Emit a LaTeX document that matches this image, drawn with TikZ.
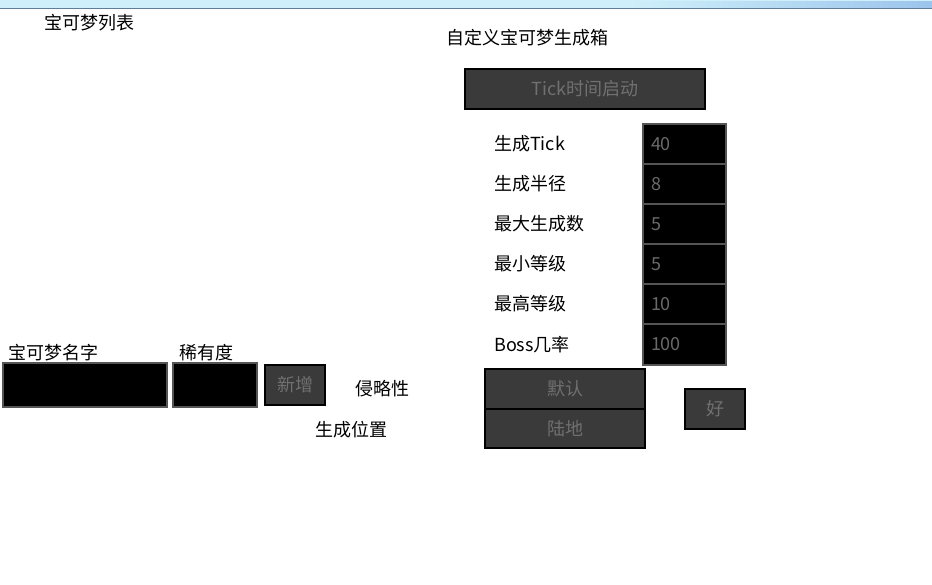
\documentclass[tikz,border=0pt]{standalone}
\usepackage{fontspec}
\setmainfont{Noto Sans CJK SC}
\usetikzlibrary{positioning}
\definecolor{btnfill}{HTML}{3A3A3A}
\definecolor{btntext}{HTML}{707070}
\definecolor{fieldedge}{HTML}{555555}
\definecolor{fieldtext}{HTML}{6A6A6A}
\definecolor{barblue}{HTML}{CFF0FA}
\definecolor{bardeep}{HTML}{9CC4EC}
\definecolor{barline}{HTML}{607C98}

\begin{document}
\begin{tikzpicture}[
    x=1pt, y=-1pt,                          % one unit = one pixel
    font=\fontsize{18}{18}\selectfont,
    caption/.style={anchor=west, inner sep=0pt},
    button/.style={draw=black, line width=2.5pt, fill=btnfill, text=btntext,
        inner sep=0pt, outer sep=0pt, anchor=north west},
    field/.style={draw=fieldedge, line width=2pt, fill=black, text=fieldtext,
        inner xsep=8pt, inner ysep=0pt, outer sep=0pt, align=left,
        anchor=north west}]
    \useasboundingbox (0,0) rectangle (932,584);

    % Window bar
    \fill[barblue] (0,0) rectangle (932,8);
    \shade[left color=barblue, right color=bardeep] (630,1) rectangle (932,8);
    \draw[barline, line width=1pt] (0,8.5) -- (932,8.5);

    % Titles
    \node[caption] (listT) at (44,23) {宝可梦列表};
    \node[caption] (boxT) at (446,38) {自定义宝可梦生成箱};

    % Tick button
    \node[button, minimum width=240pt, minimum height=40pt] (tickB) at (465,69) {Tick时间启动};

    % Value fields
    \node[field, text width=67pt, minimum height=40pt] (tickF) at (643,124) {40};
    \node[field, text width=67pt, minimum height=40pt, below=0pt of tickF] (radF) {8};
    \node[field, text width=67pt, minimum height=40pt, below=0pt of radF] (maxF) {5};
    \node[field, text width=67pt, minimum height=40pt, below=0pt of maxF] (minF) {5};
    \node[field, text width=67pt, minimum height=40pt, below=0pt of minF] (topF) {10};
    \node[field, text width=67pt, minimum height=41pt, below=0pt of topF] (bossF) {100};

    % Field labels
    \node[caption] (tickL) at (494,0 |- tickF) {生成Tick};
    \node[caption] (radL) at (494,0 |- radF) {生成半径};
    \node[caption] (maxL) at (494,0 |- maxF) {最大生成数};
    \node[caption] (minL) at (494,0 |- minF) {最小等级};
    \node[caption] (topL) at (494,0 |- topF) {最高等级};
    \node[caption] (bossL) at (494,0 |- bossF) {Boss几率};

    % Option buttons
    \node[button, minimum width=160pt, minimum height=40pt] (defB) at (485,369) {默认};
    \node[button, minimum width=160pt, minimum height=39pt, below=0pt of defB] (landB) {陆地};
    \node[button, minimum width=60pt, minimum height=40pt] (okB) at (685,389) {好};

    % Entry row
    \node[caption] (nameL) at (8,353) {宝可梦名字};
    \node[field, minimum width=164pt, minimum height=44pt] (nameF) at (3,363) {};
    \node[caption] (rareL) at (179,353) {稀有度};
    \node[field, minimum width=84pt, minimum height=44pt] (rareF) at (173,363) {};
    \node[button, minimum width=60pt, minimum height=40pt] (addB) at (265,365) {新增};
    \node[caption] (aggrL) at (355,389) {侵略性};
    \node[caption] (placeL) at (315,430) {生成位置};
\end{tikzpicture}
\end{document}
